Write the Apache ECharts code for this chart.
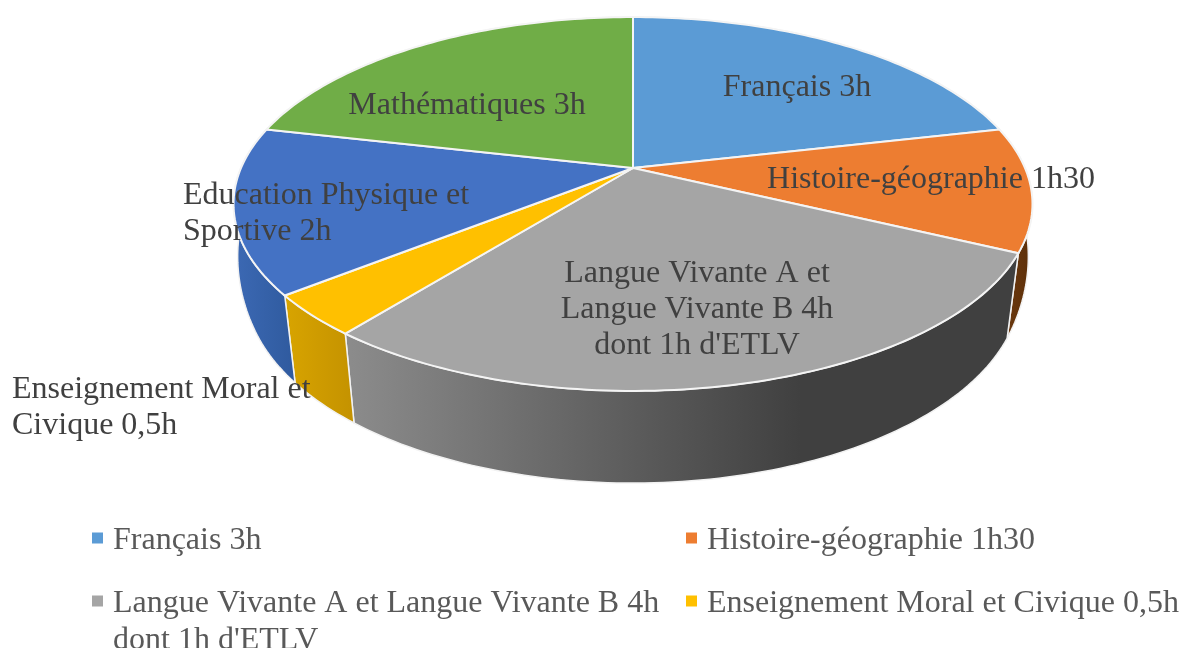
<!DOCTYPE html>
<html>
<head>
<meta charset="utf-8">
<style>
html, body { margin: 0; padding: 0; background: #fff; }
#chart { width: 1184px; height: 648px; }
</style>
<script src="https://cdn.jsdelivr.net/npm/echarts@6/dist/echarts.min.js"></script>
</head>
<body>
<div id="chart"></div>
<script>
var sliceNames = ["Français 3h", "Histoire-géographie 1h30", "Langue Vivante A et Langue Vivante B 4h dont 1h d'ETLV", "Enseignement Moral et Civique 0,5h", "Education Physique et Sportive 2h", "Mathématiques 3h"];
var sliceHours = [3, 1.5, 4, 0.5, 2, 3];
var topColors = ["#5B9BD5", "#ED7D31", "#A5A5A5", "#FFC000", "#4472C4", "#70AD47"];
var wallFrom = ["#3b6e9e", "#6e3a10", "#8c8c8c", "#d8a400", "#3c69b4", "#4f7c32"];
var wallTo = ["#2f5f8c", "#5c2f08", "#404040", "#c49200", "#2f5a9e", "#43692a"];
var labelLines = ["Français 3h", "Histoire-géographie 1h30", "Langue Vivante A et\nLangue Vivante B 4h\ndont 1h d'ETLV", "Enseignement Moral et\nCivique 0,5h", "Education Physique et\nSportive 2h", "Mathématiques 3h"];
// label anchor: x, y of first line, text align
var labelPos = [[797, 88, "center"], [931, 180, "center"], [697, 274, "center"], [12, 390, "left"], [183, 196, "left"], [467, 106, "center"]];

var totalHours = sliceHours.reduce(function (a, b) { return a + b; }, 0);
var FONT = '"Liberation Serif", "Times New Roman", serif';

// perspective disc: top face and bottom face of the cake
var topFace = { cx: 633, cy: 168, a: 392, b: 180, k: -0.1925, bulge: 0 };
var bottomFace = { cx: 633, cy: 248.5, a: 381, b: 190, k: -0.19, bulge: 75 };

function project(face, angle) {
    var u = Math.sin(angle), v = -Math.cos(angle);
    var w = 1 + face.k * v;
    // the wall silhouette sits a bit wider than a flat disc near the sides
    var d = Math.max(0, 0.434 - v);
    var a = face.a + face.bulge * d * d;
    return [face.cx + a * u / w, face.cy + face.b * v / w];
}

function arcPoints(face, start, end) {
    var pts = [];
    var steps = Math.max(2, Math.ceil((end - start) / 0.02));
    for (var i = 0; i <= steps; i++) {
        pts.push(project(face, start + (end - start) * i / steps));
    }
    return pts;
}

function renderSlice(idx) {
    return function (params, api) {
        var before = 0;
        for (var i = 0; i < idx; i++) {
            before += sliceHours[i];
        }
        var start = before / totalHours * Math.PI * 2;
        var end = (before + api.value(0)) / totalHours * Math.PI * 2;
        var topArc = arcPoints(topFace, start, end);
        var wall = topArc.concat(arcPoints(bottomFace, start, end).reverse());
        var xs = wall.map(function (p) { return p[0]; });
        return {
            type: "group",
            children: [{
                type: "polygon",
                z2: 1,
                shape: { points: wall },
                style: {
                    fill: {
                        type: "linear", global: true,
                        x: Math.min.apply(null, xs), y: 0,
                        x2: idx == 2 ? 800 : Math.max.apply(null, xs), y2: 0,
                        colorStops: [{ offset: 0, color: wallFrom[idx] }, { offset: 1, color: wallTo[idx] }]
                    },
                    stroke: "#f2f2f2",
                    lineWidth: 1.5
                }
            }, {
                type: "polygon",
                z2: 5,
                shape: { points: [[topFace.cx, topFace.cy]].concat(topArc) },
                style: { fill: topColors[idx], stroke: "#f4f4f4", lineWidth: 2 }
            }, {
                type: "text",
                z2: 10,
                style: {
                    x: labelPos[idx][0],
                    y: labelPos[idx][1] - 18,
                    text: labelLines[idx],
                    align: labelPos[idx][2],
                    verticalAlign: "top",
                    font: '32px ' + FONT,
                    lineHeight: 36,
                    fill: "#404040"
                }
            }]
        };
    };
}

var series = sliceNames.map(function (name, i) {
    return {
        type: "custom",
        name: name,
        coordinateSystem: "none",
        silent: true,
        animation: false,
        itemStyle: { color: topColors[i] },
        renderItem: renderSlice(i),
        data: [[sliceHours[i]]]
    };
});

function legendColumn(left, names) {
    return {
        orient: "vertical",
        left: left,
        top: 519,
        padding: 0,
        itemGap: 25,
        itemWidth: 11,
        itemHeight: 11,
        icon: "rect",
        selectedMode: false,
        data: names,
        formatter: function (name) {
            return "{t|" + name.replace(" dont 1h d'ETLV", "") + "}";
        },
        textStyle: {
            rich: {
                t: { fontFamily: FONT, fontSize: 32, lineHeight: 30, color: "#595959", padding: [6, 0, 0, 5] }
            }
        }
    };
}

var myChart = echarts.init(document.getElementById("chart"));
myChart.setOption({
    animation: false,
    backgroundColor: "#ffffff",
    legend: [
        legendColumn(92, [sliceNames[0], sliceNames[2]]),
        legendColumn(686, [sliceNames[1], sliceNames[3]])
    ],
    graphic: [{
        type: "text",
        left: 113,
        top: 625,
        style: { text: "dont 1h d'ETLV", font: '32px ' + FONT, fill: "#595959" }
    }],
    series: series
});
</script>
</body>
</html>
